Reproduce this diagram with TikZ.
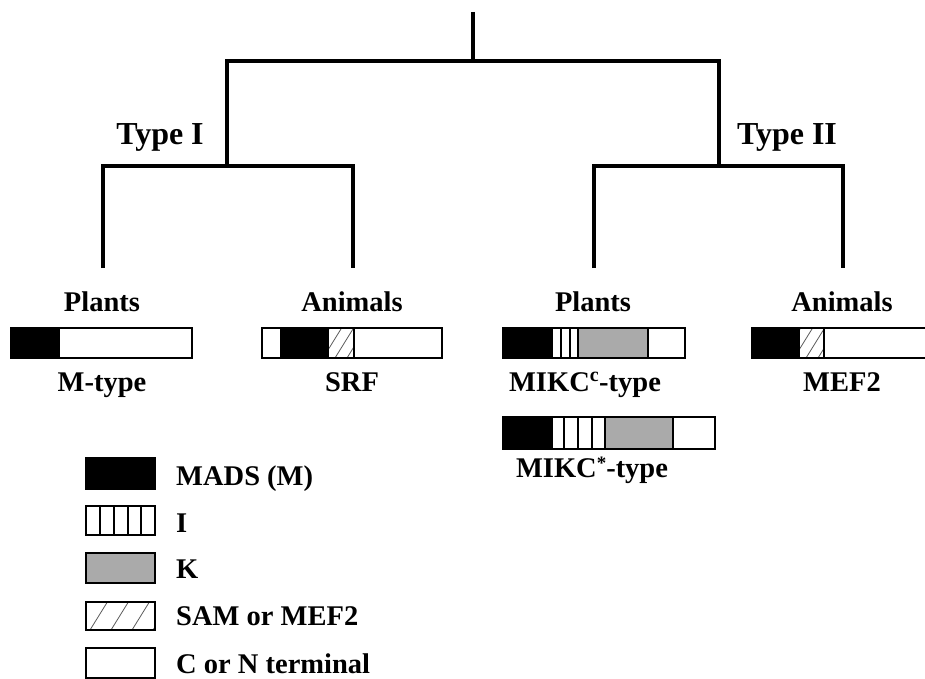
\documentclass[tikz,border=0pt]{standalone}
\usepackage{fontspec}
\setmainfont{Liberation Serif}
\definecolor{kgray}{RGB}{170,170,170}
\definecolor{hatchgray}{RGB}{90,90,90}

% hatched block: x1, y1, x2, y2, spacing, phase
\newcommand\hatchblock[6]{%
  \begin{scope}
    \clip (#1,#2) rectangle (#3,#4);
    \foreach \k in {-4,...,12}
      \draw[hatchline] ({#1+#6+\k*#5},#4) -- ({#1+#6+\k*#5+0.62*(#4-#2)},#2);
  \end{scope}}
% vertical divider inside a bar: x, y1, y2
\newcommand\divider[3]{\draw[sep] (#1,#2) -- (#1,#3);}

\begin{document}
\begin{tikzpicture}[x=1pt,y=-1pt,
  tree/.style={line width=3.2pt, line join=miter},
  barframe/.style={line width=2.4pt},
  sep/.style={line width=1.6pt},
  hatchline/.style={line width=0.8pt, hatchgray},
  lbl/.style={font=\bfseries\fontsize{28.5}{32}\selectfont, inner sep=0pt, anchor=base},
  typelbl/.style={font=\bfseries\fontsize{32}{36}\selectfont, inner sep=0pt, anchor=base},
  legtxt/.style={lbl, anchor=base west}]

\clip (0,0) rectangle (925,679);

% ---------- tree ----------
\coordinate (top)   at (473,12);
\coordinate (root)  at (473,61);
\coordinate (tIa)   at (227,61);
\coordinate (tIIa)  at (719,61);
\coordinate (tIb)   at (227,166);
\coordinate (tIIb)  at (719,166);
\coordinate (l1a) at (103,166); \coordinate (l1b) at (103,268);
\coordinate (l2a) at (353,166); \coordinate (l2b) at (353,268);
\coordinate (l3a) at (594,166); \coordinate (l3b) at (594,268);
\coordinate (l4a) at (843,166); \coordinate (l4b) at (843,268);

\draw[tree] (top) -- (root);
\draw[tree] (tIb) -- (tIa) -- (tIIa) -- (tIIb);
\draw[tree] (l1b) -- (l1a) -- (l2a) -- (l2b);
\draw[tree] (l3b) -- (l3a) -- (l4a) -- (l4b);

\node[typelbl] (typeI)  at (160,145) {Type I};
\node[typelbl] (typeII) at (787,145) {Type II};

\node[lbl] (plantsI)   at (102,311) {Plants};
\node[lbl] (animalsI)  at (352,311) {Animals};
\node[lbl] (plantsII)  at (593,311) {Plants};
\node[lbl] (animalsII) at (842,311) {Animals};

% ---------- domain bars ----------
% M-type
\fill[black] (11,328) rectangle (60,358);
\draw[barframe] (11,328) rectangle (192,358);

% SRF
\fill[black] (281,328) rectangle (329,358);
\hatchblock{329}{328}{354}{358}{12}{-6}
\divider{281}{328}{358}
\divider{354}{328}{358}
\draw[barframe] (262,328) rectangle (442,358);

% MIKCc
\fill[black] (503,328) rectangle (553,358);
\fill[kgray] (578,328) rectangle (648,358);
\divider{561}{328}{358}
\divider{570}{328}{358}
\divider{578}{328}{358}
\divider{648}{328}{358}
\draw[barframe] (503,328) rectangle (685,358);

% MEF2
\fill[black] (752,328) rectangle (800,358);
\hatchblock{800}{328}{824}{358}{12}{-6}
\divider{824}{328}{358}
\draw[barframe] (752,328) rectangle (934,358);

% MIKC*
\fill[black] (503,417) rectangle (553,449);
\fill[kgray] (605,417) rectangle (673,449);
\divider{564}{417}{449}
\divider{578}{417}{449}
\divider{592}{417}{449}
\divider{605}{417}{449}
\divider{673}{417}{449}
\draw[barframe] (503,417) rectangle (715,449);

\node[lbl] (mtype) at (102,391) {M-type};
\node[lbl] (srf)   at (352,391) {SRF};
\node[lbl] (mikcc) at (585,391) {MIKC\textsuperscript{c}-type};
\node[lbl] (mef)   at (842,391) {MEF2};
\node[lbl] (mikcs) at (592,477) {MIKC\raisebox{0.55ex}{\fontsize{19}{19}\selectfont *}-type};

% ---------- legend ----------
\fill[black] (86,458) rectangle (155,489);
\draw[barframe] (86,458) rectangle (155,489);

\foreach \lx in {100,114,128,141} \divider{\lx}{506}{535}
\draw[barframe] (86,506) rectangle (155,535);

\fill[kgray] (86,553) rectangle (155,583);
\draw[barframe] (86,553) rectangle (155,583);

\hatchblock{86}{602}{155}{630}{21}{4}
\draw[barframe] (86,602) rectangle (155,630);

\draw[barframe] (86,648) rectangle (155,678);

\node[legtxt] (legM) at (176,485) {MADS (M)};
\node[legtxt] (legI) at (176,532) {I};
\node[legtxt] (legK) at (176,578) {K};
\node[legtxt] (legS) at (176,625) {SAM or MEF2};
\node[legtxt] (legC) at (176,673) {C or N terminal};
\end{tikzpicture}
\end{document}
